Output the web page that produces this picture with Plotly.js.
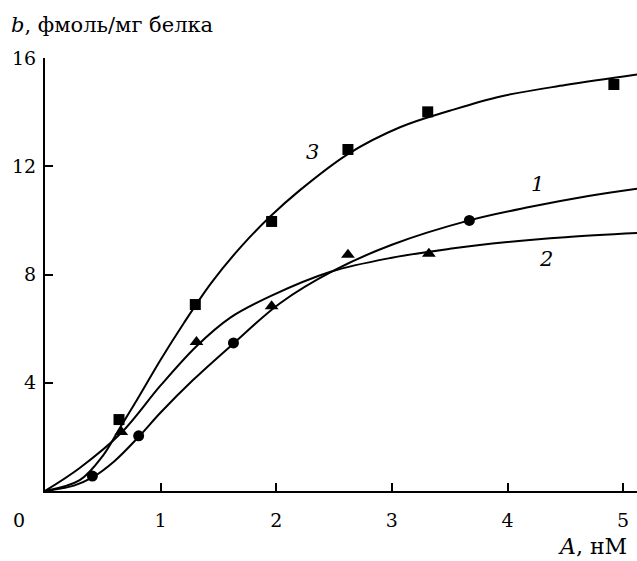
<!DOCTYPE html>
<html><head><meta charset="utf-8">
<script src="https://cdn.plot.ly/plotly-3.0.1.min.js"></script>
<style>body{margin:0;background:#fff}#c{width:637px;height:561px}</style>
</head><body><div id="c"></div>
<script>
// Measured points
const x1 = [0.41, 0.81, 1.63, 3.67];
const y1 = [0.55, 2.04, 5.47, 10.0];
const x2 = [0.66, 1.31, 1.96, 2.62, 3.32];
const y2 = [2.18, 5.51, 6.83, 8.73, 8.77];
const x3 = [0.64, 1.30, 1.96, 2.62, 3.31, 4.92];
const y3 = [2.64, 6.89, 9.96, 12.62, 14.01, 15.02];
// Fitted curves
const cx1 = [0, 0.25, 0.41, 0.6, 0.81, 1.0, 1.28, 1.63, 2.03, 2.5, 3.0, 3.67, 4.2, 4.7, 5.12];
const cy1 = [0, 0.2, 0.5, 1.1, 2.0, 2.9, 4.1, 5.45, 6.93, 8.15, 9.1, 10.0, 10.5, 10.9, 11.17];
const cx2 = [0, 0.3, 0.66, 1.0, 1.31, 1.6, 1.95, 2.47, 3.0, 3.5, 4.0, 4.5, 5.12];
const cy2 = [0, 0.85, 2.15, 3.9, 5.35, 6.4, 7.2, 8.1, 8.62, 8.95, 9.2, 9.38, 9.53];
const cx3 = [0, 0.3, 0.5, 0.65, 0.8, 1.0, 1.2, 1.44, 1.7, 1.95, 2.2, 2.62, 3.07, 3.5, 3.94, 4.5, 5.12];
const cy3 = [0, 0.4, 1.3, 2.35, 3.4, 4.85, 6.2, 7.7, 9.05, 10.15, 11.1, 12.45, 13.44, 14.05, 14.58, 15.0, 15.39];
const xTicks = [1, 2, 3, 4, 5];
const yTicks = [4, 8, 12, 16];
const curveLabels = [{t:'3', x:2.31, y:12.52}, {t:'1', x:4.26, y:11.35}, {t:'2', x:4.33, y:8.56}];

const F = 'DejaVu Serif';
const lineStyle = {color:'#000', width:2, shape:'spline', smoothing:1};
const traces = [
  {x:cx1, y:cy1, mode:'lines', line:lineStyle, hoverinfo:'skip'},
  {x:cx2, y:cy2, mode:'lines', line:lineStyle, hoverinfo:'skip'},
  {x:cx3, y:cy3, mode:'lines', line:lineStyle, hoverinfo:'skip'},
  {x:x1, y:y1, mode:'markers', marker:{symbol:'circle', size:11, color:'#000'}},
  {x:x2, y:y2, mode:'markers', marker:{symbol:'triangle-up', size:12, color:'#000'}},
  {x:x3, y:y3, mode:'markers', marker:{symbol:'square', size:11, color:'#000'}}
];
const L=45, R=0, T=58, B=70, W=637, H=561, pw=W-L-R, ph=H-T-B;
const px = v => (v-L)/pw, py = v => (H-B-v)/ph;
const ann = curveLabels.map(c => ({x:c.x, y:c.y, xref:'x', yref:'y', text:'<i>'+c.t+'</i>', showarrow:false, font:{family:F, size:21, color:'#000'}}));
ann.push({x:px(19), y:py(520), xref:'paper', yref:'paper', text:'0', showarrow:false, xanchor:'center', yanchor:'middle', font:{family:F, size:19, color:'#000'}});
ann.push({x:px(9), y:py(25), xref:'paper', yref:'paper', text:'<i>b</i>, фмоль/мг белка', showarrow:false, xanchor:'left', yanchor:'middle', font:{family:F, size:21, color:'#000'}});
ann.push({x:px(629), y:py(546), xref:'paper', yref:'paper', text:'<i>A</i>, нМ', showarrow:false, xanchor:'right', yanchor:'middle', font:{family:F, size:22, color:'#000'}});
const layout = {
  width:W, height:H, margin:{l:L, r:R, t:T, b:B}, showlegend:false,
  paper_bgcolor:'#fff', plot_bgcolor:'#fff',
  font:{family:F, size:19, color:'#000'},
  xaxis:{range:[0,5.12], tickvals:xTicks, ticktext:xTicks.map(String), ticks:'inside', ticklen:8, tickwidth:2, tickcolor:'#000', ticklabelstandoff:11,
    showline:true, linewidth:2, linecolor:'#000', showgrid:false, zeroline:false, tickfont:{family:F, size:19, color:'#000'}, fixedrange:true},
  yaxis:{range:[0,16], tickvals:yTicks, ticktext:yTicks.map(String), ticks:'inside', ticklen:8, tickwidth:2, tickcolor:'#000', ticklabelstandoff:3,
    showline:true, linewidth:2, linecolor:'#000', showgrid:false, zeroline:false, tickfont:{family:F, size:19, color:'#000'}, fixedrange:true},
  annotations:ann
};
Plotly.newPlot('c', traces, layout, {displayModeBar:false, staticPlot:true});
</script></body></html>
